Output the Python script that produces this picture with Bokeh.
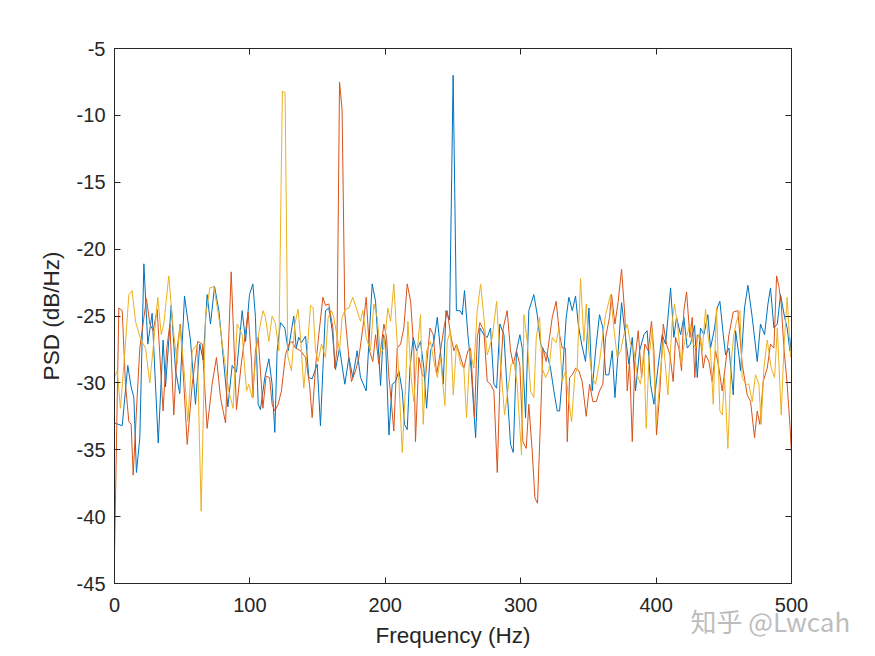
from bokeh.plotting import figure
from bokeh.models import LinearAxis, Range1d, FixedTicker, Title
from bokeh.embed import file_html
from bokeh.resources import INLINE

# ---------------- data ----------------
x_ticks = [0, 100, 200, 300, 400, 500]
y_ticks = [-45, -40, -35, -30, -25, -20, -15, -10, -5]

freq_blue = [0.0, 5.7, 9.8, 12.3, 14.3, 16.2, 18.7, 21.7, 24.6, 27.8, 32.3, 35.9, 37.7, 41.9, 45.1, 48.2,
             51.7, 56.1, 59.8, 63.0, 65.5, 68.4, 70.9, 73.9, 77.1, 83.7, 86.9, 90.1, 94.3, 96.8, 99.7,
             102.2, 104.1, 106.1, 107.8, 111.0, 114.0, 116.4, 118.4, 120.1, 122.6, 125.8, 128.3, 132.4,
             134.2, 136.1, 138.1, 141.1, 143.5, 146.0, 149.7, 152.1, 155.8, 158.3, 160.8, 163.2, 166.2,
             170.1, 173.1, 176.0, 179.2, 181.7, 185.9, 190.3, 192.8, 196.5, 198.5, 200.2, 202.7, 205.1,
             207.6, 210.0, 212.5, 214.2, 216.2, 218.2, 220.6, 223.1, 226.0, 228.5, 230.5, 233.4, 235.9,
             238.4, 240.3, 242.8, 244.8, 247.5, 250.1, 252.5, 255.1, 256.8, 258.5, 261.0, 263.5, 266.7,
             269.9, 272.8, 275.3, 277.7, 280.2, 282.2, 284.6, 287.6, 290.0, 292.5, 294.5, 296.9, 299.4,
             301.1, 303.6, 306.0, 309.7, 312.2, 314.7, 317.1, 319.6, 322.0, 324.5, 327.0, 328.7, 330.7,
             333.6, 335.6, 338.1, 340.5, 342.5, 345.0, 347.9, 350.4, 352.8, 355.3, 358.2, 360.7, 362.7,
             365.1, 367.6, 369.6, 372.0, 374.5, 377.4, 379.9, 382.4, 384.8, 387.8, 391.0, 393.4, 395.9,
             398.4, 401.3, 404.5, 407.0, 410.7, 413.1, 415.1, 418.1, 420.5, 423.0, 425.4, 428.4, 430.4,
             432.8, 435.3, 438.2, 440.2, 443.2, 445.1, 447.1, 449.6, 451.3, 453.8, 457.0, 458.7, 461.1,
             462.4, 465.3, 467.8, 471.0, 474.7, 477.1, 480.1, 482.6, 484.5, 487.0, 489.5, 491.9, 494.9,
             496.8, 498.8, 500.0]
psd_blue = [-33.0, -33.2, -28.7, -30.3, -31.1, -36.7, -34.1, -21.1, -27.1, -24.8, -34.5, -26.8, -30.3, -24.2,
            -29.1, -30.8, -23.5, -26.8, -31.6, -27.1, -28.3, -23.4, -25.6, -22.8, -24.6, -31.8, -28.7, -29.2,
            -24.6, -26.9, -23.4, -22.6, -25.1, -31.6, -32.0, -29.6, -28.2, -30.1, -33.7, -27.6, -25.5, -25.9,
            -27.6, -25.0, -27.4, -26.6, -27.0, -26.5, -29.6, -29.7, -28.6, -33.2, -24.6, -24.4, -26.1, -29.0,
            -27.4, -30.1, -28.1, -29.6, -27.6, -29.6, -30.6, -22.6, -23.9, -30.2, -26.4, -26.9, -33.9, -30.1,
            -29.9, -29.1, -30.6, -33.1, -33.5, -28.9, -26.6, -27.6, -26.9, -28.9, -31.9, -27.6, -26.9, -25.1,
            -27.1, -30.1, -24.6, -25.3, -7.0, -24.6, -24.6, -24.9, -23.1, -26.4, -29.1, -34.1, -25.9, -26.4,
            -26.6, -25.9, -30.1, -30.4, -25.6, -26.4, -30.6, -34.6, -35.2, -27.6, -26.4, -27.4, -32.6, -24.6,
            -23.4, -24.9, -27.1, -27.6, -27.9, -28.9, -30.6, -32.1, -32.1, -29.6, -25.1, -23.6, -24.6, -23.5,
            -25.6, -27.1, -28.4, -24.4, -30.6, -27.6, -24.9, -25.9, -29.4, -29.4, -27.6, -31.1, -27.6, -24.0,
            -26.6, -28.6, -26.6, -30.6, -27.6, -26.4, -26.1, -30.1, -31.6, -28.9, -26.4, -27.1, -22.9, -26.6,
            -25.1, -26.4, -25.1, -27.4, -27.1, -25.7, -29.6, -25.9, -26.4, -24.9, -27.4, -25.9, -24.4, -23.9,
            -26.4, -27.9, -27.4, -30.9, -26.1, -27.9, -29.1, -24.4, -22.7, -25.1, -28.4, -25.6, -26.4, -24.1,
            -22.9, -25.9, -25.6, -23.4, -25.1, -25.9, -27.6, -26.5]

freq_red = [0.0, 3.2, 5.7, 8.1, 10.6, 12.3, 13.8, 16.7, 18.7, 23.6, 26.1, 28.6, 31.5, 35.9, 38.4, 40.9, 43.8,
            46.3, 48.7, 53.7, 57.4, 61.5, 64.8, 68.4, 72.1, 75.3, 78.3, 82.0, 86.2, 90.1, 93.6, 98.7, 101.2,
            102.2, 104.1, 106.1, 107.8, 109.6, 112.0, 114.5, 116.4, 118.4, 120.9, 123.3, 126.3, 128.8,
            131.2, 133.7, 137.4, 141.1, 144.0, 146.0, 148.4, 150.9, 153.9, 155.8, 158.3, 161.3, 162.7,
            164.3, 166.2, 168.1, 170.1, 173.1, 175.0, 178.0, 180.5, 183.4, 185.9, 188.3, 190.8, 192.8,
            195.2, 199.0, 200.9, 202.7, 204.4, 206.3, 208.8, 211.3, 213.7, 216.2, 218.7, 221.1, 222.3,
            224.8, 227.3, 229.7, 233.0, 235.4, 237.9, 240.8, 243.3, 245.7, 248.2, 250.7, 252.6, 255.6,
            258.0, 261.0, 263.0, 265.9, 267.9, 269.9, 272.8, 275.3, 277.7, 280.2, 282.7, 284.6, 287.1,
            290.0, 292.5, 294.5, 296.9, 299.4, 301.6, 304.1, 306.0, 308.5, 310.5, 312.4, 314.7, 316.4,
            318.8, 321.3, 323.3, 326.2, 328.7, 330.7, 333.1, 334.4, 336.1, 338.1, 340.5, 343.0, 345.4,
            348.4, 350.9, 353.3, 355.8, 358.2, 360.7, 362.7, 365.6, 367.1, 369.6, 372.0, 374.5, 377.0,
            378.7, 380.4, 382.4, 384.3, 386.8, 389.3, 391.7, 394.2, 396.6, 398.4, 400.3, 402.8, 405.3,
            407.7, 410.2, 412.6, 414.4, 416.8, 418.8, 420.5, 422.5, 425.0, 426.7, 428.6, 430.4, 432.8,
            434.8, 436.5, 439.0, 441.4, 443.9, 446.4, 448.8, 451.3, 453.8, 457.0, 460.4, 463.6, 467.3,
            469.8, 472.7, 474.7, 476.6, 479.1, 482.1, 484.5, 487.0, 489.0, 490.7, 492.4, 494.4, 496.8,
            498.8, 500.0]
psd_red = [-42.9, -24.4, -24.6, -30.1, -32.9, -33.1, -36.9, -31.1, -27.4, -23.7, -25.6, -26.1, -24.5, -32.1,
           -27.6, -25.6, -32.4, -27.4, -25.6, -34.6, -30.1, -26.9, -27.1, -33.4, -30.1, -28.1, -31.1, -33.0,
           -21.7, -32.0, -28.6, -24.7, -28.4, -31.1, -27.6, -26.6, -29.1, -31.9, -29.5, -29.6, -31.6, -32.1,
           -31.6, -30.6, -27.9, -27.1, -26.9, -27.4, -27.6, -28.1, -30.1, -32.6, -28.9, -26.4, -23.6, -24.2,
           -24.1, -25.9, -28.9, -27.5, -7.5, -9.6, -24.8, -28.1, -29.9, -29.1, -28.1, -25.9, -23.6, -27.6,
           -28.4, -26.4, -28.6, -25.6, -26.6, -29.6, -31.4, -33.6, -27.4, -27.1, -25.9, -22.6, -23.9, -27.6,
           -34.4, -28.1, -29.4, -29.6, -25.9, -26.4, -29.4, -27.6, -25.9, -24.6, -26.4, -27.6, -27.1, -28.1,
           -28.9, -27.6, -27.4, -32.6, -26.6, -25.5, -26.1, -29.9, -30.1, -30.6, -36.7, -30.1, -25.9, -24.6,
           -27.6, -28.6, -27.6, -28.7, -34.4, -34.9, -31.6, -35.1, -38.6, -39.0, -32.6, -27.4, -28.4, -26.6,
           -25.1, -23.9, -26.4, -27.4, -27.4, -34.4, -29.6, -29.4, -28.9, -29.1, -29.9, -32.5, -30.1, -31.4,
           -31.4, -30.6, -30.1, -26.6, -25.1, -23.4, -25.6, -23.9, -21.5, -25.1, -30.6, -28.4, -34.4, -28.4,
           -26.1, -29.6, -27.1, -27.6, -25.4, -27.6, -33.9, -30.6, -25.6, -27.1, -27.9, -29.9, -26.6, -27.4,
           -29.1, -24.6, -23.2, -26.6, -25.1, -29.6, -26.4, -26.6, -28.9, -27.9, -28.4, -29.9, -27.6, -28.9,
           -30.6, -28.6, -26.4, -24.7, -24.6, -28.6, -30.9, -31.4, -34.1, -32.1, -33.1, -29.9, -28.9, -27.1,
           -27.4, -22.0, -22.8, -24.1, -27.4, -30.1, -33.1, -35.3]

freq_yellow = [0.0, 2.0, 4.4, 8.1, 10.6, 13.0, 15.5, 19.2, 22.9, 26.1, 29.0, 32.0, 34.5, 36.4, 40.1, 43.3,
               46.3, 48.2, 51.7, 54.2, 57.4, 61.1, 64.0, 67.2, 70.4, 73.4, 77.1, 80.3, 84.4, 87.6, 90.6,
               94.3, 97.5, 99.2, 101.7, 105.4, 109.6, 111.5, 114.0, 116.4, 118.9, 121.4, 124.0, 126.0,
               128.0, 130.7, 133.2, 135.6, 137.4, 139.8, 142.3, 144.8, 146.7, 148.4, 150.4, 152.9, 155.8,
               157.8, 160.3, 162.0, 164.5, 166.2, 168.1, 170.6, 173.1, 176.0, 179.2, 181.7, 183.4, 185.9,
               189.1, 191.5, 194.0, 196.5, 199.0, 201.9, 203.9, 206.3, 208.8, 212.5, 215.0, 216.7, 219.1,
               221.1, 223.6, 226.0, 228.0, 230.5, 233.4, 235.9, 238.4, 240.8, 244.0, 245.7, 248.2, 250.2,
               252.6, 255.6, 258.0, 260.0, 262.5, 265.4, 267.9, 270.4, 272.8, 275.3, 279.0, 282.2, 284.6,
               288.1, 290.5, 293.0, 295.0, 297.4, 300.6, 302.4, 304.8, 307.3, 309.7, 311.5, 313.9, 315.9,
               318.4, 320.8, 323.3, 326.2, 328.2, 330.7, 333.1, 335.6, 337.6, 340.0, 341.7, 344.2, 346.7,
               348.4, 350.4, 352.8, 355.3, 358.2, 360.7, 362.7, 366.4, 368.8, 371.3, 373.8, 376.2, 378.7,
               381.1, 383.6, 386.1, 388.5, 391.0, 392.7, 394.7, 397.1, 400.3, 402.8, 405.3, 408.7, 411.9,
               413.6, 416.1, 418.5, 421.0, 423.0, 424.9, 426.7, 429.1, 431.6, 434.1, 436.5, 438.2, 440.2,
               442.2, 444.6, 447.1, 448.8, 450.6, 453.0, 455.5, 457.4, 459.4, 461.9, 463.6, 466.1, 468.5,
               471.0, 473.4, 475.9, 477.6, 479.6, 482.1, 485.0, 487.5, 489.5, 492.4, 494.4, 496.8, 499.3]
psd_yellow = [-29.6, -29.1, -31.9, -27.1, -23.4, -23.1, -25.4, -26.7, -27.4, -30.0, -26.9, -23.6, -26.4,
              -25.6, -22.0, -25.9, -28.6, -25.6, -29.4, -32.9, -27.6, -27.1, -39.6, -25.1, -22.9, -22.8,
              -25.1, -27.6, -30.6, -31.9, -25.6, -26.4, -30.6, -30.1, -31.1, -26.9, -24.6, -25.1, -26.9,
              -25.0, -25.6, -27.6, -8.2, -8.3, -28.0, -29.1, -25.6, -24.5, -26.6, -30.4, -27.6, -24.2,
              -24.4, -27.6, -28.4, -27.1, -28.1, -25.1, -24.6, -25.1, -26.6, -27.6, -25.1, -24.5, -24.4,
              -23.6, -24.6, -25.4, -24.6, -26.6, -27.6, -24.1, -25.1, -27.8, -27.4, -24.4, -25.4, -22.6,
              -27.1, -35.2, -30.1, -25.4, -29.6, -31.4, -27.6, -24.9, -33.1, -27.6, -26.9, -28.4, -29.6,
              -28.1, -31.7, -26.9, -26.1, -30.9, -27.1, -28.6, -28.9, -32.6, -27.6, -28.9, -24.6, -22.6,
              -25.1, -27.9, -26.6, -23.9, -27.9, -32.4, -30.6, -28.6, -28.4, -30.1, -35.4, -24.9, -26.9,
              -30.6, -31.1, -26.6, -25.1, -28.9, -29.6, -29.1, -26.6, -27.0, -25.9, -29.9, -29.1, -31.4,
              -32.9, -29.4, -28.9, -22.2, -26.9, -24.1, -27.6, -29.6, -30.1, -28.4, -26.4, -24.9, -23.4,
              -25.9, -28.1, -27.6, -26.4, -25.6, -27.1, -27.6, -29.4, -30.1, -27.6, -33.4, -28.1, -26.1,
              -33.1, -29.6, -26.9, -30.9, -25.4, -24.1, -25.9, -28.6, -26.9, -26.4, -25.6, -26.9, -27.4,
              -26.4, -27.6, -24.5, -26.4, -27.6, -31.6, -24.4, -32.1, -32.4, -29.6, -34.9, -28.4, -26.4,
              -25.4, -24.6, -29.6, -30.1, -30.1, -31.4, -29.4, -30.1, -33.1, -28.9, -26.8, -28.9, -29.6,
              -25.9, -32.4, -27.4, -23.6, -28.1]

series = [
    (freq_blue, psd_blue, "#0072BD"),
    (freq_red, psd_red, "#D95319"),
    (freq_yellow, psd_yellow, "#EDB120"),
]

# ---------------- figure ----------------
W, H = 860, 650
p = figure(width=W, height=H, output_backend="svg", toolbar_location=None,
           x_range=Range1d(0, 500), y_range=Range1d(-45, -5),
           x_axis_location=None, y_axis_location=None,
           min_border_left=114, min_border_right=69, min_border_top=48, min_border_bottom=67,
           background_fill_color="white", border_fill_color="white")
p.grid.visible = False
p.outline_line_color = "#262626"
p.outline_line_width = 1

axis_color = "#262626"
font = "Liberation Sans"


def style_axis(ax, ticks, show_labels):
    ax.axis_line_color = axis_color
    ax.major_tick_line_color = axis_color
    ax.major_tick_in = 6
    ax.major_tick_out = 0
    ax.minor_tick_line_color = None
    ax.major_label_text_color = axis_color
    ax.major_label_text_font = font
    ax.major_label_text_font_size = "20px"
    if show_labels:
        ax.major_label_overrides = {t: str(t) for t in ticks}
    else:
        ax.major_label_overrides = {t: "" for t in ticks}
    ax.axis_label_text_font = font
    ax.axis_label_text_font_style = "normal"
    ax.axis_label_text_font_size = "22.5px"
    ax.axis_label_text_color = axis_color


xb = LinearAxis(ticker=FixedTicker(ticks=x_ticks), axis_label="Frequency (Hz)")
style_axis(xb, x_ticks, True)
xb.major_label_standoff = 14
xb.axis_label_standoff = 8
p.add_layout(xb, "below")

yl = LinearAxis(ticker=FixedTicker(ticks=y_ticks), axis_label="PSD (dB/Hz)")
style_axis(yl, y_ticks, True)
yl.major_label_standoff = 9
yl.axis_label_standoff = 10
p.add_layout(yl, "left")

xt = LinearAxis(ticker=FixedTicker(ticks=x_ticks))
style_axis(xt, x_ticks, False)
p.add_layout(xt, "above")

yr = LinearAxis(ticker=FixedTicker(ticks=y_ticks))
style_axis(yr, y_ticks, False)
p.add_layout(yr, "right")

for fx, fy, col in series:
    p.line(fx, fy, line_color=col, line_width=1)

# watermark, placed in the bottom side panel (a label in the frame would be clipped)
wm = Title(text="知乎 @Lwcah", align="left", offset=576, vertical_align="top",
           standoff=-97, text_font="Noto Sans CJK SC", text_font_size="26px",
           text_font_style="normal", text_color="#bdbdbd")
p.add_layout(wm, "below")

open("out.html", "w").write(file_html(p, INLINE))
